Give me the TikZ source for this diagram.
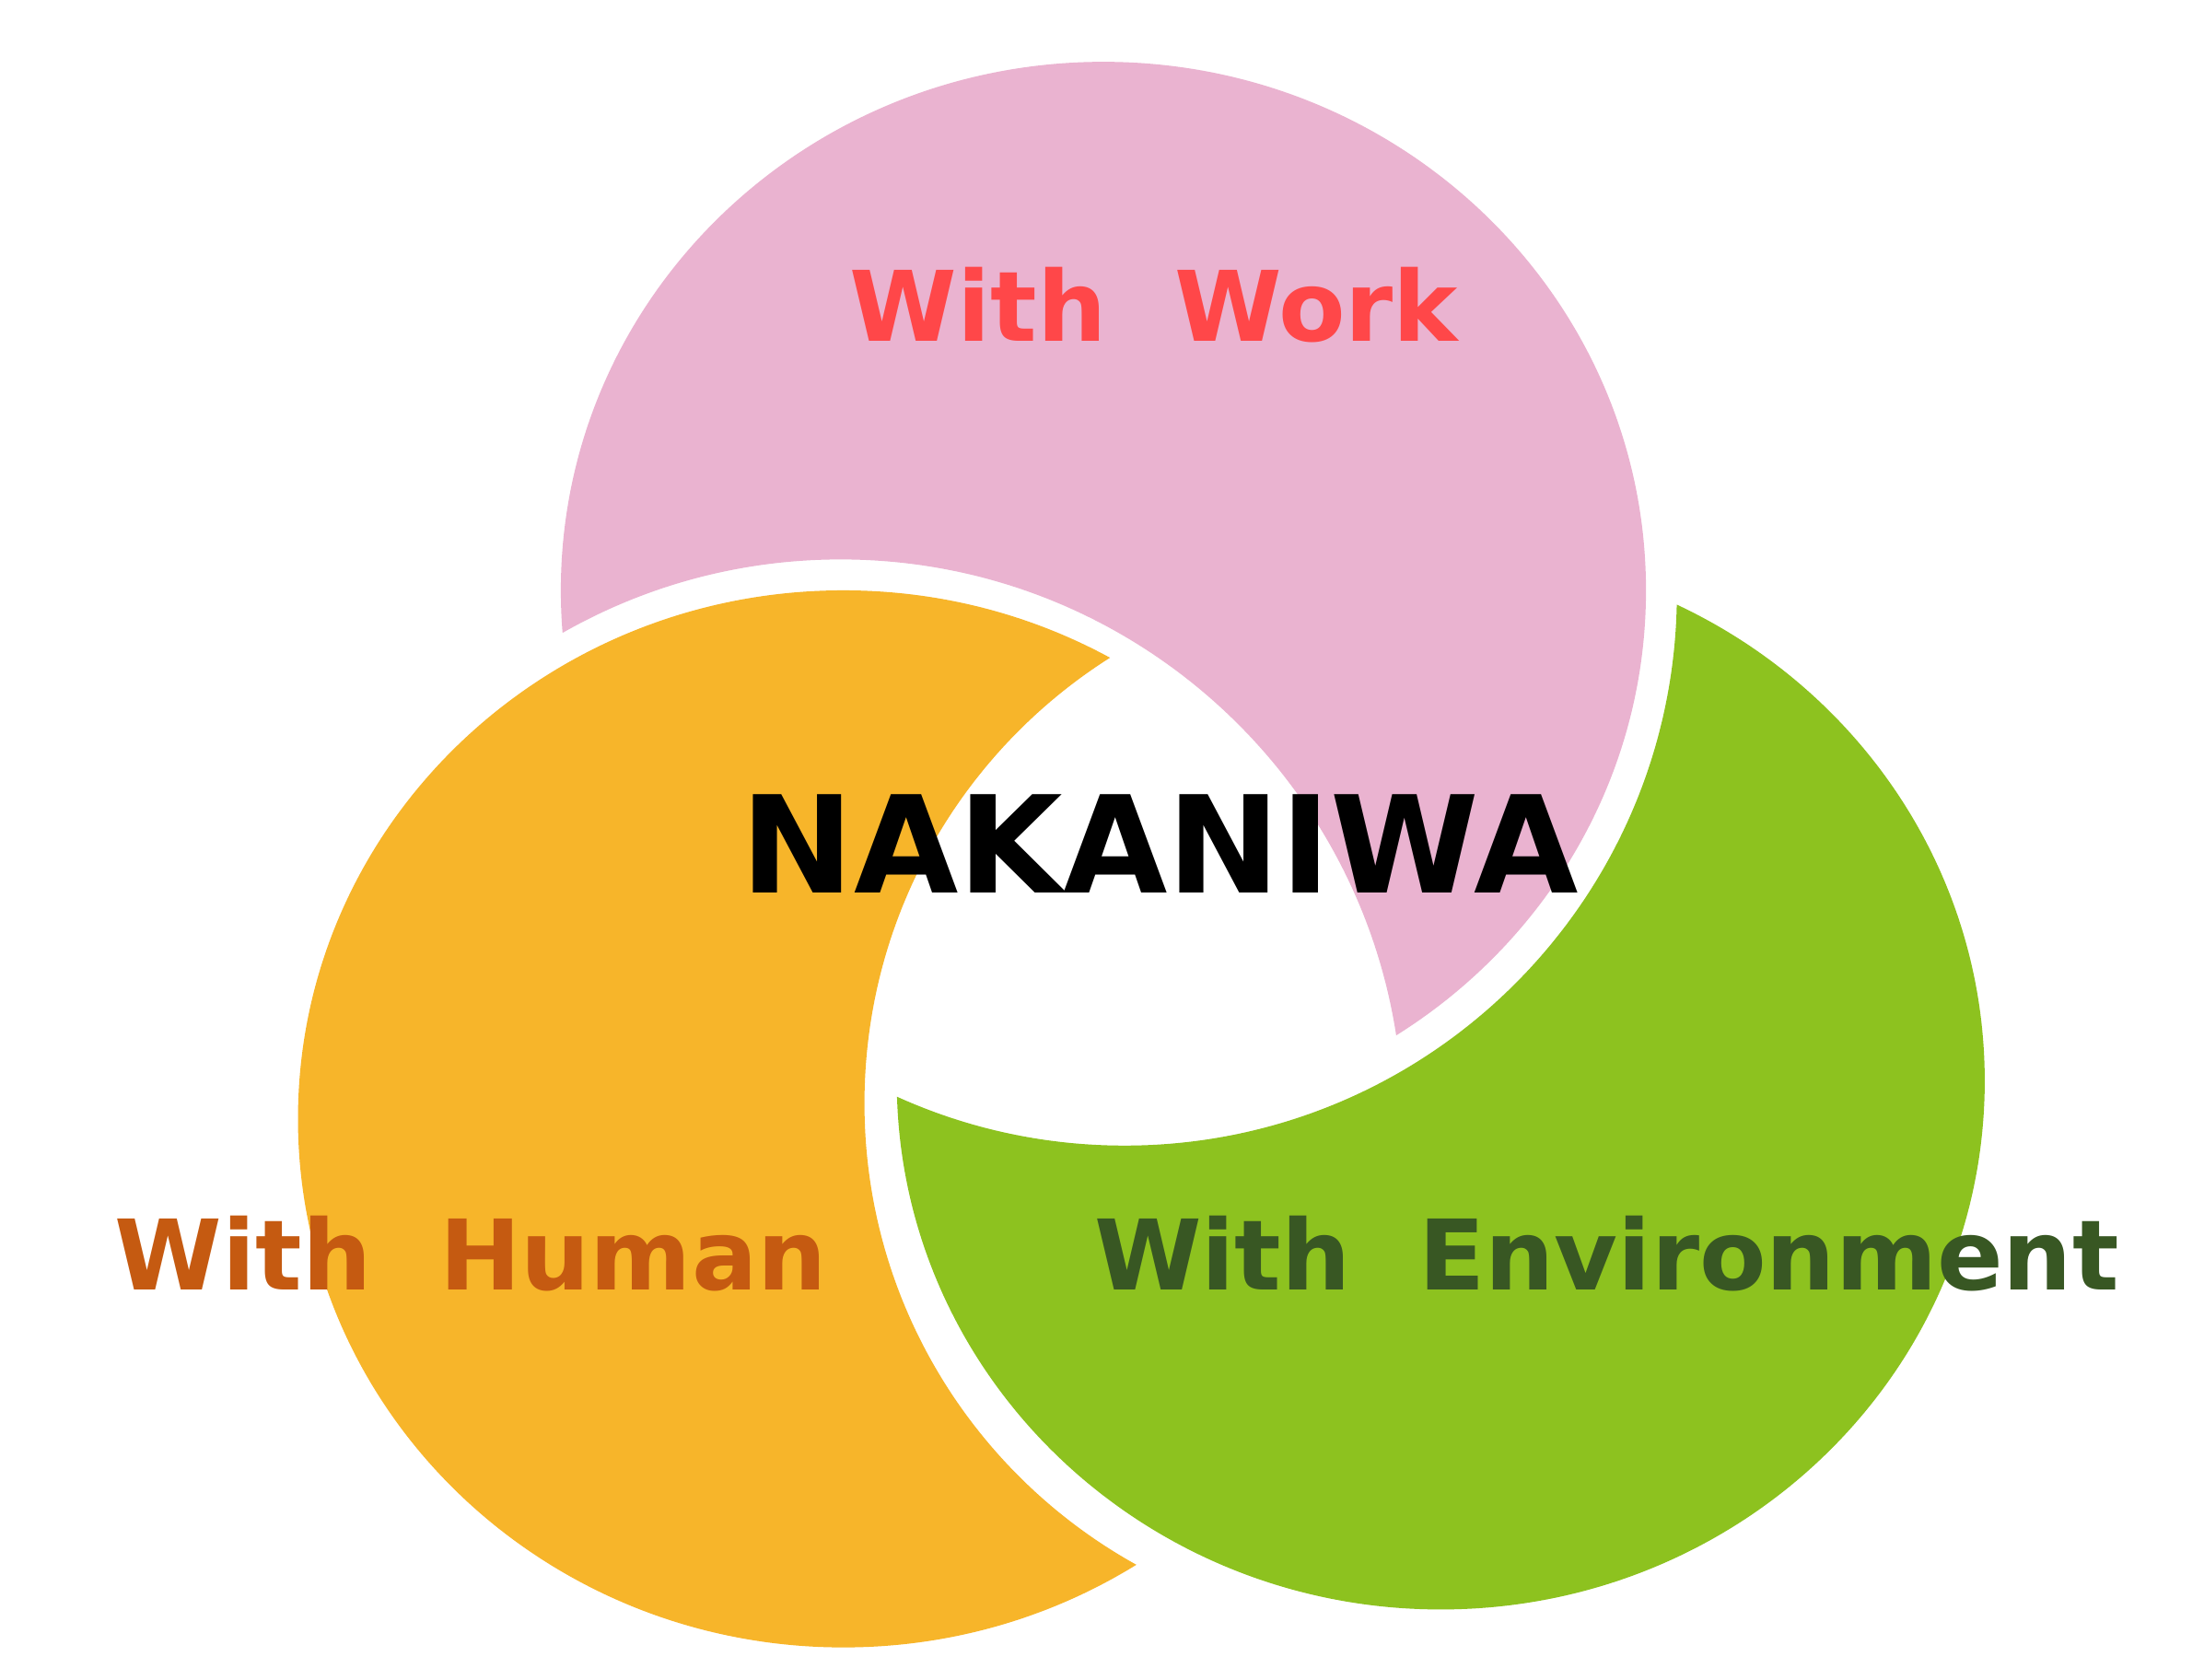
\documentclass[tikz,border=0pt]{standalone}
\usepackage{fontspec}
\setmainfont{DejaVu Sans}
\usepackage{tikz}
\definecolor{work-pink}{HTML}{EAB3D0}
\definecolor{human-orange}{HTML}{F7B52A}
\definecolor{env-green}{HTML}{8DC21F}
\definecolor{work-text}{HTML}{FF4749}
\definecolor{human-text}{HTML}{C55A11}
\definecolor{env-text}{HTML}{385723}
\tikzset{
  petal-label/.style={font=\bfseries\fontsize{19.7}{23}\selectfont, anchor=base, inner sep=0pt},
  core-label/.style={font=\bfseries\fontsize{27.3}{32}\selectfont, anchor=base, inner sep=0pt}
}

\begin{document}
\begin{tikzpicture}[x=0.01cm, y=-0.01cm]
  \fill[white] (0,0) rectangle (1568,1195);
  \useasboundingbox (0,0) rectangle (1568,1195);
  % each petal is cut by a slightly larger circle of the next one
  \begin{scope}
    \clip (785,420) ellipse [x radius=386, y radius=376];
    \fill[work-pink, even odd rule] (0,0) rectangle (1568,1195) (598,798) circle [radius=400];
  \end{scope}
  \begin{scope}
    \clip (600,796) ellipse [x radius=388, y radius=376];
    \fill[human-orange, even odd rule] (0,0) rectangle (1568,1195) (990,785) circle [radius=375];
  \end{scope}
  \begin{scope}
    \clip (1025,769) ellipse [x radius=387, y radius=376];
    \fill[env-green, even odd rule] (0,0) rectangle (1568,1195) (800,422) circle [radius=393];
  \end{scope}
  \node[petal-label, text=work-text] (work) at (821,243) {With\ \ Work};
  \node[core-label] (nakaniwa) at (825,635) {NAKANIWA};
  \node[petal-label, text=human-text] (human) at (335,918) {With\ \ Human};
  \node[petal-label, text=env-text] (env) at (1143,918) {With\ \ Environment};
\end{tikzpicture}
\end{document}
